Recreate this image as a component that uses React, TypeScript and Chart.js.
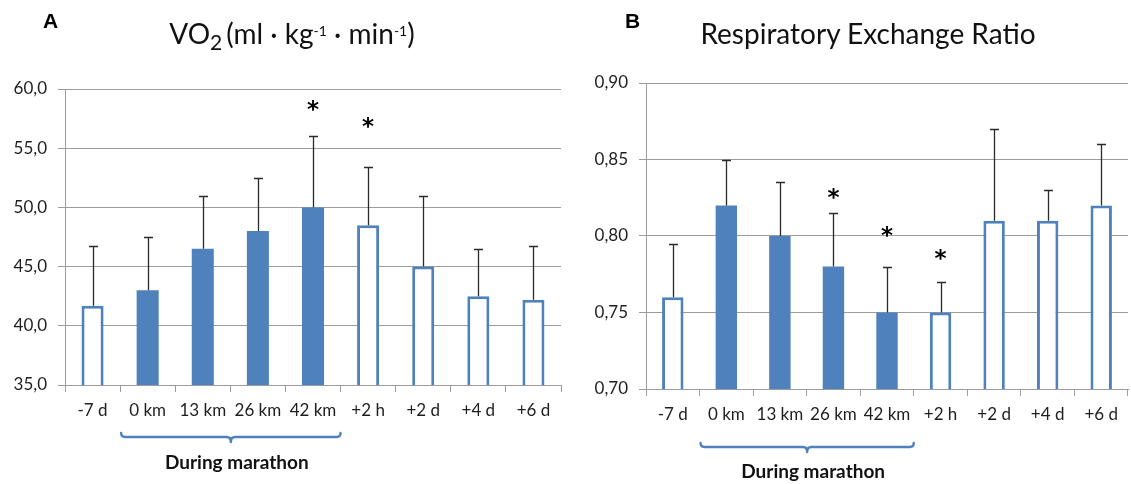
import React, { useEffect, useRef } from "react";
import { Chart, registerables } from "chart.js";

Chart.register(...registerables);

// ---------- data ----------
const categories = ["-7 d", "0 km", "13 km", "26 km", "42 km", "+2 h", "+2 d", "+4 d", "+6 d"];
const duringMarathon = [false, true, true, true, true, false, false, false, false];

const vo2Mean = [41.7, 43.0, 46.5, 48.0, 50.0, 48.5, 45.0, 42.5, 42.2];
const vo2Sd = [5.0, 4.5, 4.5, 4.5, 6.0, 4.9, 6.0, 4.0, 4.5];
const vo2Stars: (number | null)[] = [null, null, null, null, 58.6, 57.2, null, null, null];
const vo2Axis = { min: 35, max: 60, step: 5, decimals: 1 };

const rerMean = [0.76, 0.82, 0.8, 0.78, 0.75, 0.75, 0.81, 0.81, 0.82];
const rerSd = [0.035, 0.03, 0.035, 0.035, 0.03, 0.02, 0.06, 0.02, 0.04];
const rerStars: (number | null)[] = [null, null, null, 0.828, 0.803, 0.788, null, null, null];
const rerAxis = { min: 0.7, max: 0.9, step: 0.05, decimals: 2 };

const bracketLabel = "During marathon";

// ---------- styles ----------
const BLUE = "#4F81BD";
const GRID = "#9c9c9c";
const TEXT = "#1e1e1e";
const FONT = "Lato";

const overlayPlugin = {
  id: "overlay",
  afterDatasetsDraw(chart: any, _args: any, opts: any) {
    const { ctx, scales, chartArea } = chart;
    const x = scales.x;
    const y = scales.y;
    ctx.save();
    // error bars
    ctx.strokeStyle = "#2a2a2a";
    ctx.lineWidth = 1.3;
    opts.mean.forEach((m: number, i: number) => {
      const px = Math.round(x.getPixelForValue(i)) + 0.5;
      const yb = y.getPixelForValue(m);
      const yt = Math.round(y.getPixelForValue(m + opts.sd[i])) + 0.5;
      ctx.beginPath();
      ctx.moveTo(px, yb);
      ctx.lineTo(px, yt);
      ctx.moveTo(px - 4.5, yt);
      ctx.lineTo(px + 4.5, yt);
      ctx.stroke();
    });
    // stars
    ctx.fillStyle = "#000";
    ctx.font = 'bold 23px "DejaVu Sans"';
    ctx.textAlign = "center";
    ctx.textBaseline = "alphabetic";
    const mt = ctx.measureText("*");
    const off = (mt.actualBoundingBoxAscent - mt.actualBoundingBoxDescent) / 2;
    opts.stars.forEach((s: number | null, i: number) => {
      if (s == null) return;
      ctx.fillText("*", x.getPixelForValue(i), y.getPixelForValue(s) + off);
    });
    // bracket
    const idx = opts.during.map((d: boolean, i: number) => (d ? i : -1)).filter((i: number) => i >= 0);
    const half = (x.getPixelForValue(1) - x.getPixelForValue(0)) / 2;
    const x1 = x.getPixelForValue(idx[0]) - half + 1;
    const x2 = x.getPixelForValue(idx[idx.length - 1]) + half;
    const mid = (x1 + x2) / 2;
    const by = chartArea.bottom + opts.bracketOffset;
    ctx.strokeStyle = BLUE;
    ctx.lineWidth = 2.4;
    ctx.lineJoin = "round";
    ctx.lineCap = "round";
    ctx.beginPath();
    ctx.moveTo(x1, by - 4);
    ctx.quadraticCurveTo(x1, by, x1 + 4, by);
    ctx.lineTo(mid - 4, by);
    ctx.quadraticCurveTo(mid, by, mid, by + 5);
    ctx.quadraticCurveTo(mid, by, mid + 4, by);
    ctx.lineTo(x2 - 4, by);
    ctx.quadraticCurveTo(x2, by, x2, by - 4);
    ctx.stroke();
    // label
    ctx.fillStyle = "#111";
    ctx.font = `bold 19px ${FONT}`;
    ctx.textAlign = "center";
    ctx.fillText(opts.label, mid + 6, chartArea.bottom + opts.labelOffset);
    ctx.restore();
  },
};

function makeChart(
  canvas: HTMLCanvasElement,
  mean: number[],
  sd: number[],
  stars: (number | null)[],
  axis: { min: number; max: number; step: number; decimals: number },
  layout: { yWidth: number; top: number; right: number; xHeight: number; bracketOffset: number; labelOffset: number }
) {
  return new Chart(canvas, {
    type: "bar",
    data: {
      labels: categories,
      datasets: [
        {
          data: mean,
          backgroundColor: duringMarathon.map((d) => (d ? BLUE : "#ffffff")),
          borderColor: BLUE,
          borderWidth: duringMarathon.map((d) => (d ? 0 : 3)),
          borderSkipped: false,
          barPercentage: 0.4,
          categoryPercentage: 1,
        },
      ],
    },
    options: {
      responsive: false,
      animation: false,
      layout: { padding: { left: 0, top: layout.top, right: layout.right, bottom: 0 } },
      plugins: {
        legend: { display: false },
        tooltip: { enabled: false },
        title: { display: false },
        overlay: {
          mean,
          sd,
          stars,
          during: duringMarathon,
          label: bracketLabel,
          bracketOffset: layout.bracketOffset,
          labelOffset: layout.labelOffset,
        },
      } as any,
      scales: {
        x: {
          offset: true,
          grid: { offset: true, drawOnChartArea: false, drawTicks: true, tickLength: 7, color: GRID },
          border: { display: true, color: GRID },
          ticks: { color: TEXT, font: { family: FONT, size: 17 }, padding: 8, maxRotation: 0 },
          afterFit: (s: any) => {
            s.height = layout.xHeight;
          },
        },
        y: {
          min: axis.min,
          max: axis.max,
          grid: { color: GRID, tickLength: 7, drawTicks: true },
          border: { display: true, color: GRID },
          ticks: {
            stepSize: axis.step,
            color: TEXT,
            padding: 11,
            font: { family: FONT, size: 17 },
            callback: (v: any) => Number(v).toFixed(axis.decimals).replace(".", ","),
          },
          afterFit: (s: any) => {
            s.width = layout.yWidth;
          },
        },
      },
    },
    plugins: [overlayPlugin],
  } as any);
}

export default function App() {
  const refA = useRef<HTMLCanvasElement>(null);
  const refB = useRef<HTMLCanvasElement>(null);

  useEffect(() => {
    const a = makeChart(refA.current!, vo2Mean, vo2Sd, vo2Stars, vo2Axis, {
      yWidth: 65,
      top: 89,
      right: 4,
      xHeight: 99,
      bracketOffset: 52,
      labelOffset: 84,
    });
    const b = makeChart(refB.current!, rerMean, rerSd, rerStars, rerAxis, {
      yWidth: 81,
      top: 83,
      right: 3,
      xHeight: 95,
      bracketOffset: 58,
      labelOffset: 89,
    });
    return () => {
      a.destroy();
      b.destroy();
    };
  }, []);

  const titleStyle: React.CSSProperties = {
    position: "absolute",
    transform: "translateX(-50%)",
    whiteSpace: "nowrap",
    fontFamily: FONT,
    fontSize: 28,
    lineHeight: "32px",
    color: "#111",
  };
  const letterStyle: React.CSSProperties = {
    position: "absolute",
    fontFamily: '"Liberation Sans"',
    fontWeight: "bold",
    fontSize: 21,
    lineHeight: "21px",
    color: "#000",
  };
  const supStyle: React.CSSProperties = { fontSize: 14, verticalAlign: "0.55em", lineHeight: 0 };
  const subStyle: React.CSSProperties = { fontSize: 21, verticalAlign: "-0.3em", lineHeight: 0, marginRight: 4 };

  return (
    <div style={{ position: "absolute", left: 0, top: 0, width: 1131, height: 484, background: "#fff", overflow: "hidden" }}>
      <canvas ref={refA} width={565} height={484} style={{ position: "absolute", left: 0, top: 0 }} />
      <canvas ref={refB} width={566} height={484} style={{ position: "absolute", left: 565, top: 0 }} />
      <div style={{ ...letterStyle, left: 43, top: 10 }}>A</div>
      <div style={{ ...letterStyle, left: 625, top: 10 }}>B</div>
      <div style={{ ...titleStyle, left: 292, top: 17 }}>
        VO<span style={subStyle}>2</span>(ml · kg<span style={supStyle}>-1</span> · min<span style={supStyle}>-1</span>)
      </div>
      <div style={{ ...titleStyle, left: 868, top: 17 }}>Respiratory Exchange Ratio</div>
    </div>
  );
}
